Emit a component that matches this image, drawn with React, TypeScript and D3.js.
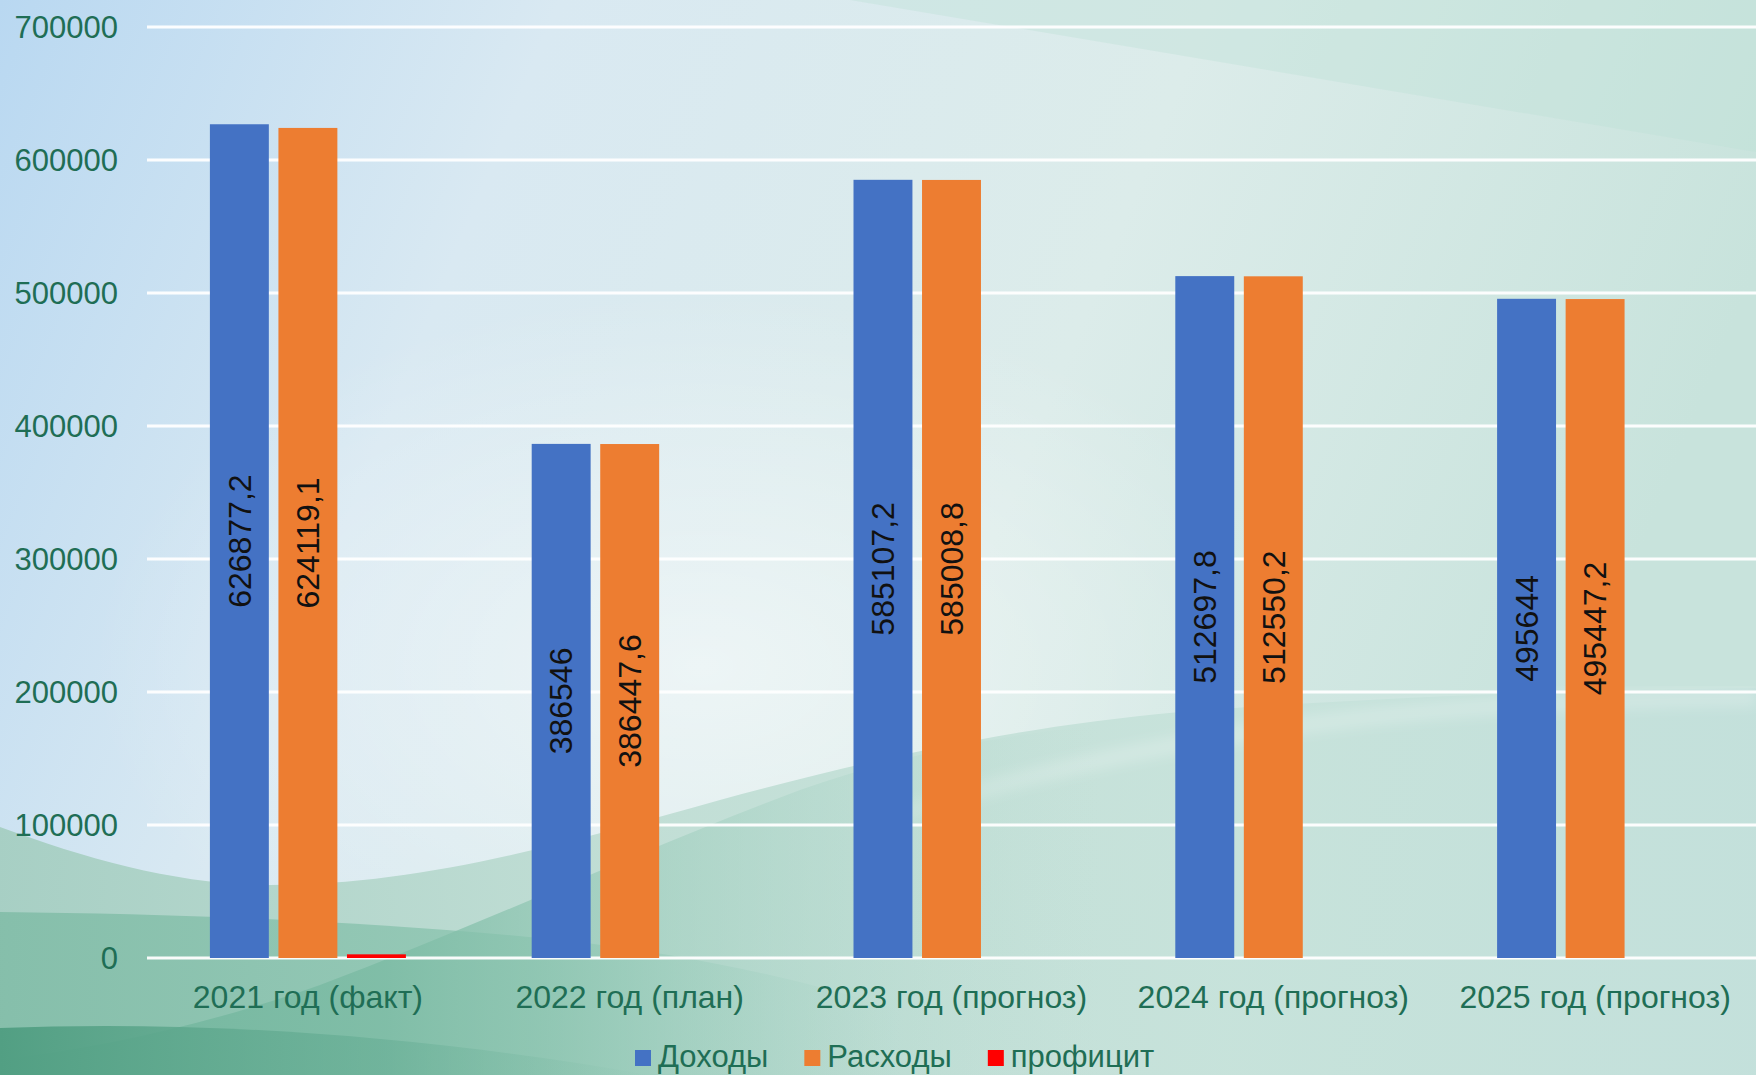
import { useEffect, useRef } from 'react';
import * as d3 from 'd3';

const categories = [
  '2021 год (факт)',
  '2022 год (план)',
  '2023 год (прогноз)',
  '2024 год (прогноз)',
  '2025 год (прогноз)',
];
const income = [626877.2, 386546, 585107.2, 512697.8, 495644];
const expenses = [624119.1, 386447.6, 585008.8, 512550.2, 495447.2];
const surplus = [2758.1, 0, 0, 0, 0];
const seriesNames = ['Доходы', 'Расходы', 'профицит'];
const seriesColors = ['#4472c4', '#ed7d31', '#ff0000'];
const yTicks = [0, 100000, 200000, 300000, 400000, 500000, 600000, 700000];

const W = 1756;
const H = 1075;
const AXIS_GREEN = '#1f6e55';
const FONT = 'Liberation Sans, Arial, sans-serif';

export default function App() {
  const svgRef = useRef<SVGSVGElement>(null);

  useEffect(() => {
    if (!svgRef.current) return;
    const svg = d3.select(svgRef.current);
    svg.selectAll('*').remove();

    // background
    const defs = svg.append('defs');
    const grad = (id: string, stops: [number, string, number?][], x2 = 1, y2 = 0) => {
      const g = defs.append('linearGradient').attr('id', id)
        .attr('x1', 0).attr('y1', 0).attr('x2', x2).attr('y2', y2);
      stops.forEach(([o, c, a]) =>
        g.append('stop').attr('offset', o).attr('stop-color', c).attr('stop-opacity', a ?? 1));
    };
    grad('bg', [[0, '#b9d8f1'], [0.3, '#d9e9f2'], [0.65, '#dcecea'], [1, '#c8e3dc']], 1, 0.25);
    grad('hill', [[0, '#a3cdbf'], [0.35, '#bddcd2'], [0.7, '#c6e2da'], [1, '#c3e0db']]);
    grad('band', [[0, '#82bda8'], [0.6, '#93c8b5'], [1, '#a8d3c6', 0]]);
    grad('rise', [[0, '#6db39a'], [0.35, '#7dbca5'], [0.6, '#98cbb9', 0.6], [1, '#b5dad0', 0]]);
    grad('corner', [[0, '#529f83'], [0.6, '#67ae95', 0.6], [1, '#7fbca6', 0]]);

    const glow = defs.append('radialGradient').attr('id', 'glow')
      .attr('cx', 0.4).attr('cy', 0.62).attr('r', 0.35);
    glow.append('stop').attr('offset', 0).attr('stop-color', '#ffffff').attr('stop-opacity', 0.5);
    glow.append('stop').attr('offset', 1).attr('stop-color', '#ffffff').attr('stop-opacity', 0);

    defs.append('filter').attr('id', 'soft')
      .append('feGaussianBlur').attr('stdDeviation', 6);

    svg.append('rect').attr('width', W).attr('height', H).attr('fill', 'url(#bg)');
    svg.append('rect').attr('width', W).attr('height', H).attr('fill', 'url(#glow)');
    svg.append('path').attr('d', 'M850,0 L1756,0 L1756,152 Z')
      .attr('fill', '#bfe0d7').attr('opacity', 0.4);
    // pale hill
    svg.append('path')
      .attr('d', 'M0,827 C90,860 180,885 270,885 C420,885 560,845 720,800 C850,765 1000,728 1180,712 C1400,695 1600,690 1756,688 L1756,1075 L0,1075 Z')
      .attr('fill', 'url(#hill)').attr('opacity', 0.9);
    // faint lighter ridge in the middle
    svg.append('path')
      .attr('d', 'M900,815 C1050,765 1250,722 1500,706 C1620,700 1700,698 1756,698')
      .attr('fill', 'none').attr('stroke', '#ffffff').attr('stroke-opacity', 0.2)
      .attr('stroke-width', 18).attr('filter', 'url(#soft)');
    // mid band at the left
    svg.append('path')
      .attr('d', 'M0,912 C200,914 380,922 560,940 C700,955 820,985 900,1010 L900,1075 L0,1075 Z')
      .attr('fill', 'url(#band)').attr('opacity', 0.9);
    // rising diagonal shape
    svg.append('path')
      .attr('d', 'M0,1060 C120,1045 220,1020 320,985 C480,925 640,850 800,790 C900,755 1000,735 1100,725 L1100,1075 L0,1075 Z')
      .attr('fill', 'url(#rise)').attr('opacity', 0.85);
    // darkest corner
    svg.append('path')
      .attr('d', 'M0,1028 C200,1020 420,1035 650,1075 L0,1075 Z')
      .attr('fill', 'url(#corner)');

    // scales
    const x = d3.scaleBand<string>().domain(categories).range([147, W]).padding(0);
    const inner = d3.scaleBand<number>().domain([0, 1, 2]).range([-98, 98]).paddingInner(0.14);
    const y = d3.scaleLinear().domain([0, 700000]).range([958, 27]);

    // grid
    svg.append('g').selectAll('line').data(yTicks).join('line')
      .attr('x1', 147).attr('x2', W)
      .attr('y1', d => y(d)).attr('y2', d => y(d))
      .attr('stroke', '#ffffff').attr('stroke-width', 3).attr('opacity', 0.95);

    svg.append('g').selectAll('text').data(yTicks).join('text')
      .attr('x', 118).attr('y', d => y(d)).attr('dy', '0.35em')
      .attr('text-anchor', 'end')
      .attr('font-family', FONT)
      .attr('font-size', 31).attr('fill', AXIS_GREEN)
      .text(d => String(d));

    // bars
    const series = [income, expenses, surplus];
    const bars = series.flatMap((vals, s) =>
      vals.map((v, i) => ({ s, i, v })),
    ).filter(d => d.v > 0);

    const bx = (d: { s: number; i: number }) =>
      (x(categories[d.i]) ?? 0) + x.bandwidth() / 2 + (inner(d.s) ?? 0);

    svg.append('g').selectAll('rect').data(bars).join('rect')
      .attr('x', d => bx(d))
      .attr('y', d => y(d.v))
      .attr('width', inner.bandwidth())
      .attr('height', d => y(0) - y(d.v))
      .attr('fill', d => seriesColors[d.s]);

    // value labels (vertical)
    svg.append('g').selectAll('text').data(bars.filter(d => d.s < 2)).join('text')
      .attr('transform', d => {
        const tx = bx(d) + inner.bandwidth() / 2;
        const ty = (y(d.v) + y(0)) / 2;
        return `translate(${tx},${ty}) rotate(-90)`;
      })
      .attr('dy', '0.35em')
      .attr('text-anchor', 'middle')
      .attr('font-family', FONT)
      .attr('font-size', 32).attr('fill', '#111111')
      .text(d => String(d.v).replace('.', ','));

    // category labels
    svg.append('g').selectAll('text').data(categories).join('text')
      .attr('x', d => (x(d) ?? 0) + x.bandwidth() / 2)
      .attr('y', 1008)
      .attr('text-anchor', 'middle')
      .attr('font-family', FONT)
      .attr('font-size', 32).attr('fill', AXIS_GREEN)
      .text(d => d);

    // legend, laid out left to right
    const legend = svg.append('g').attr('transform', 'translate(635,1067)');
    let offset = 0;
    seriesNames.forEach((name, i) => {
      const g = legend.append('g').attr('transform', `translate(${offset},0)`);
      g.append('rect').attr('x', 0).attr('y', -17).attr('width', 16).attr('height', 16)
        .attr('fill', seriesColors[i]);
      const t = g.append('text').attr('x', 23).attr('y', 0)
        .attr('font-family', FONT)
        .attr('font-size', 31).attr('fill', AXIS_GREEN)
        .text(name);
      const len = (t.node() as SVGTextElement).getComputedTextLength();
      offset += 23 + len + 36;
    });
  }, []);

  return (
    <svg
      ref={svgRef}
      width={W}
      height={H}
      style={{ position: 'fixed', top: 0, left: 0, display: 'block' }}
    />
  );
}
